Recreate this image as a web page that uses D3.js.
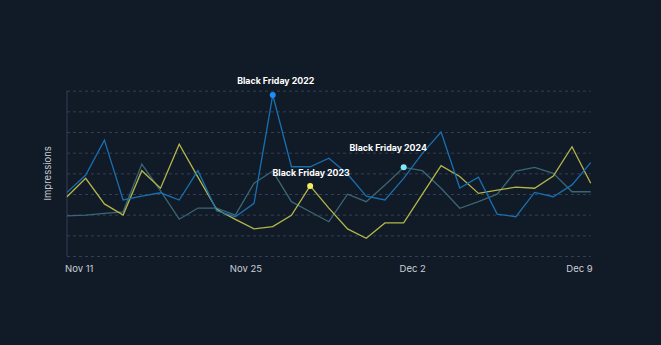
<!DOCTYPE html>
<html>
<head>
<meta charset="utf-8">
<script src="https://cdn.jsdelivr.net/npm/d3@7/dist/d3.min.js"></script>
<style>
  html, body { margin: 0; padding: 0; background: #111b27; }
  svg { display: block; }
  text { font-family: Inter, "Open Sans", sans-serif; }
</style>
</head>
<body>
<svg id="chart" width="661" height="345"></svg>
<script>
// ---- data ----
const days = ["Nov 11","Nov 12","Nov 13","Nov 14","Nov 15","Nov 16","Nov 17","Nov 18","Nov 19","Nov 20",
  "Nov 21","Nov 22","Nov 23","Nov 24","Nov 25","Nov 26","Nov 27","Nov 28","Nov 29","Nov 30",
  "Dec 1","Dec 2","Dec 3","Dec 4","Dec 5","Dec 6","Dec 7","Dec 8","Dec 9"];
const tickLabels = ["Nov 11", "Nov 25", "Dec 2", "Dec 9"];
const yTicks = [0, 10, 20, 30, 40, 50, 60, 70, 80];

const values2022 = [30.8,39.2,56.1,27.1,29.0,30.6,27.1,41.3,21.9,19.0,25.5,77.9,43.2,43.2,47.3,39.7,
  29.0,27.1,37.6,49.7,60.0,32.9,38.1,20.3,19.0,30.8,28.7,34.4,45.2];
const values2023 = [28.7,37.6,25.2,19.8,41.3,32.8,54.1,38.2,22.6,17.7,13.1,14.2,19.7,33.9,23.2,13.1,
  8.6,16.0,16.0,29.9,43.7,38.5,30.3,31.9,33.3,32.8,38.7,52.9,35.2];
const values2024 = [19.4,19.8,20.6,21.4,44.5,31.5,17.8,23.2,23.2,19.8,35.2,41.1,26.3,21.4,16.6,29.9,
  26.3,34.4,42.9,41.3,32.8,23.1,26.3,29.9,41.1,42.9,40.0,31.1,31.1];

const seriesNames = ["2022", "2023", "2024"];
const annotations = [
  { label: "Black Friday 2022", series: "2022", day: "Nov 22" },
  { label: "Black Friday 2023", series: "2023", day: "Nov 24" },
  { label: "Black Friday 2024", series: "2024", day: "Nov 29" }
];

// ---- styles / layout ----
const lineColors = { "2022": "#1a6fb0", "2023": "#b4b64a", "2024": "#3b6774" };
const markerColors = { "2022": "#1b8dfc", "2023": "#f3ef5c", "2024": "#80e7f4" };
const labelOffsets = { "2022": [3, -11], "2023": [1, -9.5], "2024": [-15.5, -16] };

const M = { left: 67, right: 70.3, top: 90.7, bottom: 89 };
const W = 661, H = 345;
const svg = d3.select("#chart");

const x = d3.scalePoint().domain(days).range([M.left, W - M.right]);
const y = d3.scaleLinear().domain([0, 80]).range([H - M.bottom, M.top]);
const xTick = d3.scalePoint().domain(tickLabels).range([M.left, W - M.right]).padding(0.07);

// grid
const gridG = svg.append("g").attr("transform", `translate(${M.left},0)`)
  .call(d3.axisLeft(y).tickValues(yTicks).tickSize(-(W - M.left - M.right)).tickFormat(""));
gridG.select(".domain").remove();
gridG.selectAll(".tick line")
  .attr("stroke", "#343d55").attr("stroke-width", 1).attr("stroke-dasharray", "3,3");

// y axis line
svg.append("line")
  .attr("x1", M.left).attr("x2", M.left)
  .attr("y1", y(80)).attr("y2", y(0))
  .attr("stroke", "#363d57").attr("stroke-width", 1);

// x axis labels
const xAxisG = svg.append("g").attr("transform", `translate(0,${H - M.bottom + 15.5})`)
  .call(d3.axisBottom(xTick).tickSize(0).tickPadding(0));
xAxisG.select(".domain").remove();
xAxisG.selectAll("text")
  .attr("fill", "#c9ced6").attr("font-size", 9.5).attr("dy", "0");

// y label
svg.append("text")
  .attr("transform", `translate(50.5,${(y(0) + y(80)) / 2}) rotate(-90)`)
  .attr("text-anchor", "middle")
  .attr("fill", "#c9ced6").attr("font-size", 9.5)
  .text("Impressions");

// lines
const seriesData = { "2022": values2022, "2023": values2023, "2024": values2024 };
const line = d3.line().x((d, i) => x(days[i])).y(d => y(d));
const drawOrder = ["2024", "2023", "2022"];
drawOrder.forEach(s => {
  svg.append("path")
    .datum(seriesData[s])
    .attr("d", line)
    .attr("fill", "none")
    .attr("stroke", lineColors[s])
    .attr("stroke-width", 1.3)
    .attr("stroke-linejoin", "miter");
});

// annotations
annotations.forEach(a => {
  const idx = days.indexOf(a.day);
  const v = seriesData[a.series][idx];
  const cx = x(a.day), cy = y(v);
  svg.append("circle")
    .attr("cx", cx).attr("cy", cy).attr("r", 3)
    .attr("fill", markerColors[a.series]);
  const off = labelOffsets[a.series];
  svg.append("text")
    .attr("x", cx + off[0]).attr("y", cy + off[1])
    .attr("text-anchor", "middle")
    .attr("fill", "#ffffff").attr("font-size", 8.8).attr("font-weight", 700)
    .text(a.label);
});
</script>
</body>
</html>
